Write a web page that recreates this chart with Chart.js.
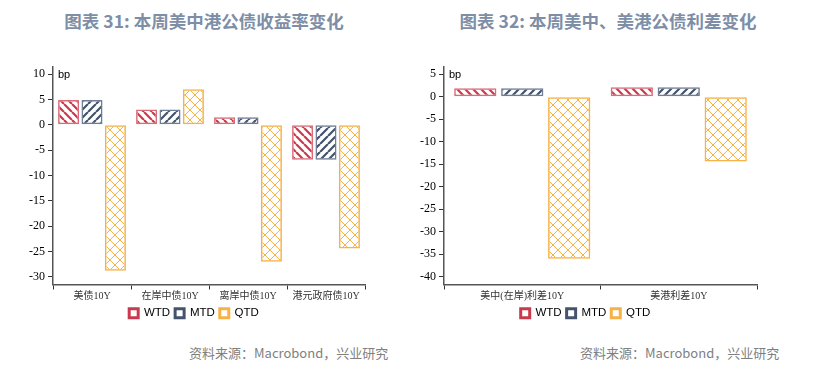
<!DOCTYPE html>
<html>
<head>
<meta charset="utf-8">
<script src="https://cdn.jsdelivr.net/npm/chart.js@4.4.0/dist/chart.umd.min.js"></script>
<style>
  body { margin: 0; background: #fff; width: 815px; height: 369px; position: relative; overflow: hidden; }
  .title { position: absolute; top: 8px; font-family: "Noto Sans CJK SC", "Noto Sans", sans-serif; font-weight: bold; font-size: 17.5px; color: #7d8ea6; text-align: center; }
  .source { position: absolute; top: 343px; font-family: "Noto Sans CJK SC", "Noto Sans", sans-serif; font-size: 13px; color: #808080; }
  .box { position: absolute; top: 0; height: 330px; }
</style>
</head>
<body>
<div class="title" style="left:0; width:408px;">图表 31: 本周美中港公债收益率变化</div>
<div class="title" style="left:408px; width:400px;">图表 32: 本周美中、美港公债利差变化</div>
<div class="box" style="left:0; width:408px;"><canvas id="leftChart"></canvas></div>
<div class="box" style="left:408px; width:407px;"><canvas id="rightChart"></canvas></div>
<div class="source" style="left:189px;">资料来源：Macrobond，兴业研究</div>
<div class="source" style="left:580px;">资料来源：Macrobond，兴业研究</div>

<script>
// ==========================================
// DATA
// ==========================================

const seriesNames = ['WTD', 'MTD', 'QTD'];

// 图表 31
const yieldCategories = ['美债10Y', '在岸中债10Y', '离岸中债10Y', '港元政府债10Y'];
const yieldWTD = [4.9, 3.0, 1.5, -6.9];
const yieldMTD = [4.9, 3.0, 1.5, -6.9];
const yieldQTD = [-28.8, 7.0, -27.0, -24.4];
const yieldTicks = [10, 5, 0, -5, -10, -15, -20, -25, -30];

// 图表 32
const spreadCategories = ['美中(在岸)利差10Y', '美港利差10Y'];
const spreadWTD = [1.9, 2.1];
const spreadMTD = [1.9, 2.1];
const spreadQTD = [-36.0, -14.4];
const spreadTicks = [5, 0, -5, -10, -15, -20, -25, -30, -35, -40];

// ==========================================
// PATTERNS
// ==========================================

const RED = '#c93a4c';
const BLUE = '#44546e';
const ORANGE = '#f6b246';

function stripePattern(color, dir) {
    const s = 8;
    const c = document.createElement('canvas');
    c.width = s; c.height = s;
    const g = c.getContext('2d');
    g.strokeStyle = color;
    g.lineWidth = 2.2;
    g.beginPath();
    for (let k = -1; k <= 1; k++) {
        if (dir > 0) {
            // "/" direction
            g.moveTo(k * s, s); g.lineTo(k * s + s, 0);
        } else {
            // "\" direction
            g.moveTo(k * s, 0); g.lineTo(k * s + s, s);
        }
    }
    g.stroke();
    return g.createPattern(c, 'repeat');
}

function crossPattern(color) {
    const s = 10;
    const c = document.createElement('canvas');
    c.width = s; c.height = s;
    const g = c.getContext('2d');
    g.strokeStyle = color;
    g.lineWidth = 1;
    g.beginPath();
    g.moveTo(0, 0); g.lineTo(s, s);
    g.moveTo(0, s); g.lineTo(s, 0);
    g.stroke();
    return g.createPattern(c, 'repeat');
}

const fills = [stripePattern(RED, -1), stripePattern(BLUE, 1), crossPattern(ORANGE)];
const borders = ['#dc6b7a', '#6f7d95', ORANGE];
const solid = [RED, BLUE, ORANGE];

// ==========================================
// CHART BUILDER
// ==========================================

// "bp" unit label in the top-left corner of the plot
const unitLabel = {
    id: 'unitLabel',
    afterDraw(chart) {
        const { ctx, chartArea } = chart;
        ctx.save();
        ctx.font = '11px "Liberation Sans", Arial, sans-serif';
        ctx.fillStyle = '#000';
        ctx.textBaseline = 'middle';
        ctx.fillText('bp', chartArea.left + 5, chartArea.top + 7.5);
        ctx.restore();
    }
};

function buildChart(id, categories, values, ticks, yMin, yMax, pad) {
    const ctx = document.getElementById(id).getContext('2d');
    return new Chart(ctx, {
        type: 'bar',
        data: {
            labels: categories,
            datasets: values.map((v, i) => ({
                label: seriesNames[i],
                data: v,
                backgroundColor: fills[i],
                borderColor: borders[i],
                borderWidth: 1.5,
                borderSkipped: false,
                categoryPercentage: 0.9,
                barPercentage: 0.9
            }))
        },
        options: {
            responsive: true,
            maintainAspectRatio: false,
            animation: false,
            layout: { padding: pad },
            plugins: {
                tooltip: { enabled: false },
                legend: {
                    position: 'bottom',
                    labels: {
                        boxWidth: 9,
                        boxHeight: 9,
                        padding: 5,
                        color: '#1a2a6a',
                        font: { family: '"Liberation Sans Narrow", "Liberation Sans", Arial, sans-serif', size: 11.5 },
                        generateLabels: (chart) => chart.data.datasets.map((ds, i) => ({
                            text: ds.label,
                            fillStyle: '#fff',
                            strokeStyle: solid[i],
                            lineWidth: 3,
                            datasetIndex: i
                        }))
                    }
                }
            },
            scales: {
                x: {
                    grid: {
                        offset: true,
                        drawOnChartArea: false,
                        drawTicks: true,
                        tickLength: 5,
                        color: (c) => (c.index === categories.length ? 'rgba(0,0,0,0)' : '#333')
                    },
                    border: { color: '#555', width: 1.5 },
                    ticks: {
                        padding: 1,
                        maxRotation: 0,
                        minRotation: 0,
                        autoSkip: false,
                        color: '#333',
                        font: { family: '"Liberation Serif", "Noto Sans CJK SC", serif', size: 10 }
                    },
                    afterFit: (scale) => { scale.height = 18; }
                },
                y: {
                    min: yMin,
                    max: yMax,
                    afterBuildTicks: (scale) => { scale.ticks = ticks.map(v => ({ value: v })); },
                    grid: {
                        drawOnChartArea: false,
                        drawTicks: true,
                        tickLength: 5,
                        color: '#333'
                    },
                    border: { color: '#555', width: 1.5 },
                    ticks: {
                        padding: 3,
                        color: '#000',
                        font: { family: '"Liberation Serif", "Times New Roman", serif', size: 12 }
                    },
                    afterFit: (scale) => { scale.width = 30; }
                }
            }
        },
        plugins: [unitLabel]
    });
}

const leftChart = buildChart('leftChart', yieldCategories,
    [yieldWTD, yieldMTD, yieldQTD], yieldTicks, -31.5, 11.4,
    { left: 23, right: 43, top: 67, bottom: 1 });

const rightChart = buildChart('rightChart', spreadCategories,
    [spreadWTD, spreadMTD, spreadQTD], spreadTicks, -41.7, 6.6,
    { left: 6, right: 58, top: 67, bottom: 1 });
</script>
</body>
</html>
